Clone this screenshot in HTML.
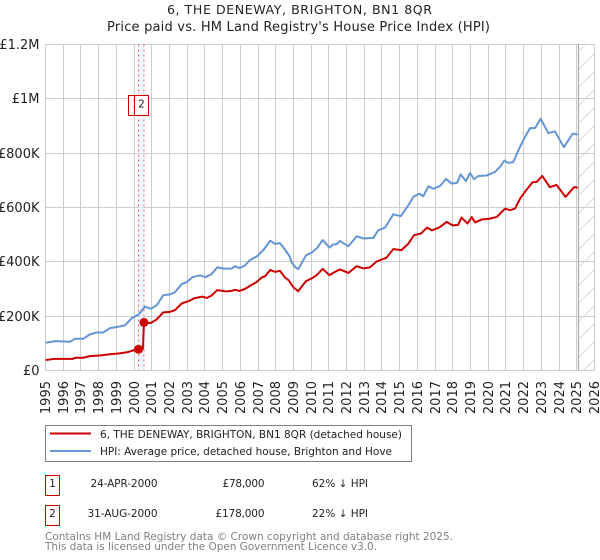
<!DOCTYPE html>
<html>
<head>
<meta charset="utf-8">
<style>
html,body{margin:0;padding:0;background:#fff;}
svg{display:block;font-family:"DejaVu Sans","Liberation Sans",sans-serif;}
</style>
</head>
<body>
<svg id="chart" width="600" height="560" viewBox="0 0 600 560" xmlns="http://www.w3.org/2000/svg">
<defs>
<pattern id="hatch" patternUnits="userSpaceOnUse" width="18" height="18">
<path d="M-1 19L19 -1" stroke="#d9d9d9" stroke-width="1" fill="none"/>
</pattern>
</defs>
<text x="167" y="14" font-size="12.6" fill="#222" textLength="265" lengthAdjust="spacing">6, THE DENEWAY, BRIGHTON, BN1 8QR</text>
<text x="107" y="31" font-size="13" fill="#222" textLength="383" lengthAdjust="spacing">Price paid vs. HM Land Registry's House Price Index (HPI)</text>
<g id="grid"></g>
<g id="ylabels"></g>
<g id="xlabels"></g>
<g id="bands"></g>
<rect x="578.5" y="44.5" width="16" height="326" fill="url(#hatch)"/>
<line x1="578.5" x2="578.5" y1="44.5" y2="370.5" stroke="#aaa" stroke-width="1.2"/>
<g id="series"></g>
<g id="flags"></g>

<g>
<rect x="45.5" y="425.5" width="366" height="36" fill="#fff" stroke="#808080" stroke-width="1"/>
<line x1="50" x2="91" y1="433.5" y2="433.5" stroke="#cc0000" stroke-width="2"/>
<text x="100" y="438" font-size="10.5" fill="#222" textLength="302" lengthAdjust="spacing">6, THE DENEWAY, BRIGHTON, BN1 8QR (detached house)</text>
<line x1="50" x2="91" y1="451" y2="451" stroke="#6495d5" stroke-width="2"/>
<text x="100" y="455" font-size="10.5" fill="#222" textLength="292" lengthAdjust="spacing">HPI: Average price, detached house, Brighton and Hove</text>
</g>

<g font-size="10.5" fill="#222">
<rect x="45.5" y="475.5" width="14" height="20" fill="#fff" stroke="#cc0000" stroke-width="1"/>
<text x="52.5" y="487" text-anchor="middle">1</text>
<text x="90.5" y="487" textLength="67" lengthAdjust="spacing">24-APR-2000</text>
<text x="222.5" y="487" textLength="42" lengthAdjust="spacing">£78,000</text>
<text x="312" y="487" textLength="56" lengthAdjust="spacing">62% ↓ HPI</text>
<rect x="45.5" y="505.5" width="14" height="20" fill="#fff" stroke="#cc0000" stroke-width="1"/>
<text x="52.5" y="517" text-anchor="middle">2</text>
<text x="87.5" y="517" textLength="70" lengthAdjust="spacing">31-AUG-2000</text>
<text x="215.5" y="517" textLength="49" lengthAdjust="spacing">£178,000</text>
<text x="312" y="517" textLength="56" lengthAdjust="spacing">22% ↓ HPI</text>
</g>

<text x="45" y="540" font-size="10.5" fill="#808080" textLength="408" lengthAdjust="spacing">Contains HM Land Registry data © Crown copyright and database right 2025.</text>
<text x="45" y="550" font-size="10.5" fill="#808080" textLength="332" lengthAdjust="spacing">This data is licensed under the Open Government Licence v3.0.</text>
</svg>

<script>
var yTickValues = [0, 200, 400, 600, 800, 1000, 1200];
var yTickLabels = ["£0", "£200K", "£400K", "£600K", "£800K", "£1M", "£1.2M"];
var xTickYears = [1995,1996,1997,1998,1999,2000,2001,2002,2003,2004,2005,2006,2007,2008,2009,2010,2011,2012,2013,2014,2015,2016,2017,2018,2019,2020,2021,2022,2023,2024,2025,2026];

var hpiDates = [1995.01,1995.54,1996.38,1996.67,1997.14,1997.51,1997.89,1998.26,1998.64,1999.02,1999.49,1999.87,2000.24,2000.62,2000.94,2001.28,2001.65,2002.03,2002.31,2002.69,2002.97,2003.31,2003.72,2004.05,2004.38,2004.70,2005.04,2005.51,2005.70,2005.94,2006.26,2006.51,2006.93,2007.30,2007.69,2007.96,2008.24,2008.52,2008.77,2008.90,2009.09,2009.27,2009.71,2010.03,2010.31,2010.65,2011.03,2011.25,2011.44,2011.63,2012.10,2012.57,2012.95,2013.51,2013.79,2014.17,2014.64,2015.06,2015.49,2015.77,2016.11,2016.33,2016.62,2016.90,2017.28,2017.61,2017.94,2018.25,2018.44,2018.74,2018.97,2019.20,2019.44,2019.91,2020.38,2020.66,2020.91,2021.13,2021.41,2021.74,2022.07,2022.36,2022.64,2022.96,2023.39,2023.77,2024.27,2024.77,2025.05];
var hpiValues = [102,108,106,117,117,133,140,140,156,160,166,193,205,235,227,240,277,280,288,318,325,344,350,344,355,380,375,375,384,377,386,405,420,443,478,466,469,445,422,398,381,373,424,434,449,480,453,464,465,477,457,494,486,488,516,526,575,568,608,639,651,641,678,669,679,705,688,691,722,697,727,704,716,718,731,749,773,764,767,816,859,892,892,927,874,880,822,872,869];

var priceDates = [1995.01,1995.54,1996.55,1996.67,1997.14,1997.51,1998.05,1998.64,1999.2,1999.6,2000.0,2000.25,2000.5,2000.56,2000.94,2001.28,2001.65,2002.03,2002.31,2002.69,2003.1,2003.4,2003.85,2004.1,2004.38,2004.70,2005.2,2005.51,2005.70,2005.94,2006.26,2006.6,2006.93,2007.2,2007.4,2007.69,2007.96,2008.24,2008.52,2008.72,2009.0,2009.27,2009.71,2010.03,2010.31,2010.65,2011.03,2011.35,2011.63,2012.10,2012.57,2012.95,2013.3,2013.72,2014.25,2014.64,2015.1,2015.49,2015.81,2016.2,2016.54,2016.82,2017.23,2017.65,2017.99,2018.3,2018.49,2018.83,2019.07,2019.26,2019.64,2020.1,2020.48,2020.95,2021.23,2021.51,2021.83,2022.17,2022.5,2022.73,2023.05,2023.48,2023.86,2024.36,2024.85,2025.05];
var priceValues = [38.6,43,43,47,47,53,55,60,63,67,75,78,80,177,175,188,214,216,222,247,256,266,272,267,276,296,291,293,297,293,300,314,326,342,347,370,363,367,342,333,306,292,329,339,351,374,351,363,372,359,384,376,379,402,415,447,443,467,498,504,526,516,526,547,534,536,563,541,565,545,556,559,565,596,590,596,636,666,693,694,716,675,683,639,675,673];

var saleDates = [2000.25, 2000.56];
var saleValues = [78, 177];
var saleLabels = ["1", "2"];

var NS = "http://www.w3.org/2000/svg";
var plotLeft = 45.5, plotRight = 594.5, plotTop = 44.5, plotBottom = 370.5;
var pxPerYear = (plotRight - plotLeft) / 31;
var pxPerK = (plotBottom - plotTop) / 1200;
function xScale(year) { return plotLeft + (year - 1995) * pxPerYear; }
function yScale(k) { return plotBottom - k * pxPerK; }
function make(tag, attrs, parent) {
  var el = document.createElementNS(NS, tag);
  for (var k in attrs) { el.setAttribute(k, attrs[k]); }
  parent.appendChild(el);
  return el;
}
function linePath(xs, ys) {
  return xs.map(function (d, i) {
    return (i ? "L" : "M") + xScale(d).toFixed(2) + " " + yScale(ys[i]).toFixed(2);
  }).join("");
}

var grid = document.getElementById("grid");
var yLabels = document.getElementById("ylabels");
var xLabels = document.getElementById("xlabels");
yTickValues.forEach(function (v, i) {
  var y = Math.round(yScale(v) - 0.5) + 0.5;
  var gl = make("line", {x1: plotLeft, x2: plotRight, y1: y, y2: y, stroke: "#cccccc", "stroke-width": 1}, grid);
  
  
  var t = make("text", {x: 39.5, y: y + 4.5, "text-anchor": "end", "font-size": 13, fill: "#222"}, yLabels);
  t.textContent = yTickLabels[i];
  
  
});
xTickYears.forEach(function (yr) {
  var x = Math.round(xScale(yr) - 0.5) + 0.5;
  var gl = make("line", {x1: x, x2: x, y1: plotTop, y2: plotBottom, stroke: "#cccccc", "stroke-width": 1}, grid);
  
  
  var t = make("text", {transform: "translate(" + (x + 4.5) + ",381) rotate(-90)", "text-anchor": "end", "font-size": 13, fill: "#222"}, xLabels);
  t.textContent = String(yr);
  
  
});

var bands = document.getElementById("bands");
var band = make("rect", {x: xScale(saleDates[0]), y: plotTop, width: xScale(saleDates[1]) - xScale(saleDates[0]), height: plotBottom - plotTop, fill: "#e8f0fd", "fill-opacity": 0.75}, bands);


saleDates.forEach(function (d) {
  var l = make("line", {x1: xScale(d), x2: xScale(d), y1: plotTop, y2: plotBottom, stroke: "#f06070", "stroke-width": 1, "stroke-dasharray": "2 3"}, bands);
  
  
});

var series = document.getElementById("series");
var hpiLine = make("path", {d: linePath(hpiDates, hpiValues), fill: "none", stroke: "#6495d5", "stroke-width": 2, "stroke-linejoin": "round"}, series);


var priceLine = make("path", {d: linePath(priceDates, priceValues), fill: "none", stroke: "#cc0000", "stroke-width": 2, "stroke-linejoin": "round"}, series);


saleDates.forEach(function (d, i) {
  var m = make("circle", {cx: xScale(d), cy: yScale(saleValues[i]), r: 4.5, fill: "#cc0000"}, series);
  
  
});

var flags = document.getElementById("flags");
saleDates.forEach(function (d, i) {
  var x = Math.floor(xScale(d) - 9.8) + 0.5;
  var r = make("rect", {x: x, y: 95.5, width: 14, height: 20, fill: "#fff", stroke: "#cc0000", "stroke-width": 1}, flags);
  
  
  var t = make("text", {x: x + 7, y: 107.5, "text-anchor": "middle", "font-size": 10.5, fill: "#222"}, flags);
  t.textContent = saleLabels[i];
  
  
});
</script>
</body>
</html>
